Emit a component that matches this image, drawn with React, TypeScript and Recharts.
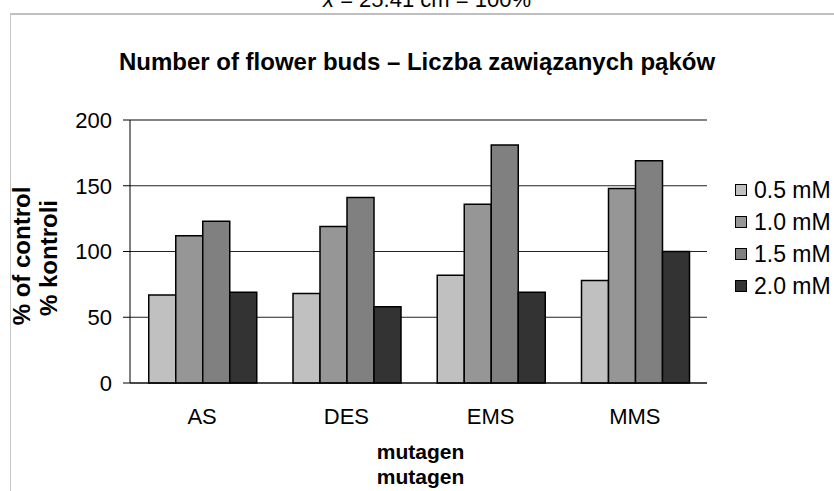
import React from "react";
import {
  BarChart,
  Bar,
  XAxis,
  YAxis,
  CartesianGrid,
  ReferenceLine,
  Legend,
} from "recharts";

const mutagens = ["AS", "DES", "EMS", "MMS"];
const conc05 = [67, 68, 82, 78];
const conc10 = [112, 119, 136, 148];
const conc15 = [123, 141, 181, 169];
const conc20 = [69, 58, 69, 100];
const yTicks = [0, 50, 100, 150, 200];
const boundaryTicks = [0, 1, 2, 3, 4];

const SERIES = [
  { key: "c05", name: "0.5 mM", color: "#c0c0c0" },
  { key: "c10", name: "1.0 mM", color: "#969696" },
  { key: "c15", name: "1.5 mM", color: "#808080" },
  { key: "c20", name: "2.0 mM", color: "#333333" },
];

const FONT = "'Liberation Sans', Arial, sans-serif";

const data = mutagens.map((m, i) => ({
  name: m,
  c05: conc05[i],
  c10: conc10[i],
  c15: conc15[i],
  c20: conc20[i],
}));

/* ─── Axis titles ───────────────────────────────────────────── */

function YTitle() {
  return (
    <g fontFamily={FONT} fontWeight="bold" fontSize={24} fill="#000">
      <text transform="translate(30, 256) rotate(-90)" textAnchor="middle">
        % of control
      </text>
      <text transform="translate(57, 258) rotate(-90)" textAnchor="middle">
        % kontroli
      </text>
    </g>
  );
}

function XTitle({ viewBox }: any) {
  const cx = viewBox ? viewBox.x + viewBox.width / 2 + 2 : 420;
  return (
    <g fontFamily={FONT} fontWeight="bold" fontSize={21} fill="#000">
      <text x={cx} y={459} textAnchor="middle">
        mutagen
      </text>
      <text x={cx} y={484} textAnchor="middle">
        mutagen
      </text>
    </g>
  );
}

function LegendBox({ payload }: any) {
  return (
    <div style={{ fontFamily: FONT, fontSize: 23, color: "#000" }}>
      {(payload || []).map((p: any) => (
        <div
          key={p.value}
          style={{ display: "flex", alignItems: "center", height: 32 }}
        >
          <span
            style={{
              width: 10,
              height: 10,
              border: "1px solid #000",
              background: p.color,
              marginRight: 7,
              flexShrink: 0,
            }}
          />
          <span style={{ whiteSpace: "nowrap" }}>{p.value}</span>
        </div>
      ))}
    </div>
  );
}

export default function App() {
  return (
    <div
      style={{
        position: "fixed",
        left: 0,
        top: 0,
        width: 834,
        height: 491,
        overflow: "hidden",
        background: "#fff",
      }}
    >
      {/* line of text above the chart, cut off by the page edge */}
      <div
        style={{
          position: "absolute",
          left: 0,
          width: 834,
          top: -11,
          lineHeight: "22px",
          textAlign: "center",
          fontFamily: FONT,
          fontSize: 22,
          paddingLeft: 10,
          whiteSpace: "nowrap",
        }}
      >
        <i>x̄</i> = 25.41 cm = 100%
      </div>
      <div
        style={{
          position: "absolute",
          left: 10,
          top: 13,
          width: 900,
          height: 600,
          borderTop: "2px solid #c0c0c0",
          borderLeft: "1px solid #c8c8c8",
        }}
      />
      <div
        style={{
          position: "absolute",
          left: 0,
          width: 834,
          top: 50,
          lineHeight: "24px",
          textAlign: "center",
          fontFamily: FONT,
          fontWeight: "bold",
          fontSize: 24,
          whiteSpace: "nowrap",
        }}
      >
        Number of flower buds – Liczba zawiązanych pąków
      </div>
      <div style={{ position: "absolute", left: 0, top: 0 }}>
        <BarChart
          width={834}
          height={491}
          data={data}
          margin={{ top: 120, right: 127, bottom: 78, left: 70 }}
          barCategoryGap="13%"
          barGap={0}
        >
          <CartesianGrid
            horizontal
            vertical={false}
            stroke="#222"
            strokeWidth={1}
            yAxisId="y"
          />
          <XAxis
            xAxisId="b"
            type="number"
            domain={[0, 4]}
            ticks={boundaryTicks}
            height={0}
            axisLine={false}
            tickLine={{ stroke: "#000" }}
            tickSize={7}
            tickFormatter={() => ""}
          />
          <XAxis
            xAxisId="c"
            dataKey="name"
            height={30}
            axisLine={{ stroke: "#000" }}
            tickLine={false}
            tick={{ fill: "#000", fontSize: 22, fontFamily: FONT }}
            tickSize={6}
            tickMargin={19}
            label={<XTitle />}
          />
          <YAxis
            yAxisId="y"
            domain={[0, 200]}
            ticks={yTicks}
            width={60}
            axisLine={{ stroke: "#000" }}
            tickLine={{ stroke: "#000" }}
            tickSize={7}
            tickMargin={11}
            tick={{ fill: "#000", fontSize: 22, fontFamily: FONT }}
            label={<YTitle />}
          />
          <ReferenceLine
            xAxisId="b"
            yAxisId="y"
            y={200}
            stroke="#808080"
            strokeWidth={1.5}
          />
          <ReferenceLine
            xAxisId="b"
            yAxisId="y"
            x={4}
            stroke="#808080"
            strokeWidth={1.5}
          />
          <Legend
            layout="vertical"
            align="center"
            verticalAlign="middle"
            content={<LegendBox />}
            wrapperStyle={{ left: 735, top: 174, width: 100 }}
          />
          {SERIES.map((s) => (
            <Bar
              key={s.key}
              dataKey={s.key}
              name={s.name}
              xAxisId="c"
              yAxisId="y"
              fill={s.color}
              stroke="#000"
              strokeWidth={1.5}
              isAnimationActive={false}
            />
          ))}
        </BarChart>
      </div>
    </div>
  );
}
